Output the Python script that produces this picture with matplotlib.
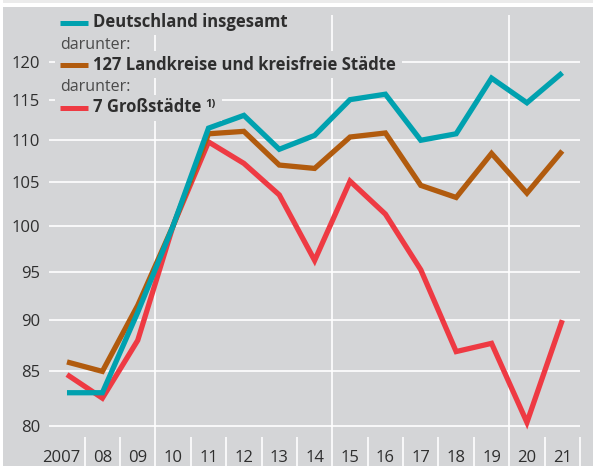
import matplotlib.pyplot as plt
from matplotlib.lines import Line2D
from matplotlib.patches import Rectangle
from matplotlib.ticker import FixedLocator, NullLocator
from matplotlib.transforms import ScaledTranslation

plt.rcParams['font.family'] = ['Open Sans', 'DejaVu Sans']

# data, index 2010 = 100
years = list(range(2007, 2022))
year_labels = ['2007', '08', '09', '10', '11', '12', '13', '14', '15', '16',
               '17', '18', '19', '20', '21']
deutschland = [83.0, 83.0, 90.8, 100.0, 111.5, 113.1, 108.9, 110.6, 115.1,
               115.8, 110.0, 110.8, 117.9, 114.7, 118.6]
landkreise = [85.9, 85.0, 91.5, 100.0, 110.8, 111.1, 107.0, 106.6, 110.4,
              110.9, 104.6, 103.2, 108.4, 103.7, 108.7]
grossstaedte = [84.7, 82.5, 88.0, 100.0, 109.8, 107.2, 103.5, 96.2, 105.1,
                101.3, 95.2, 86.9, 87.7, 80.3, 90.0]
y_ticks = [80, 85, 90, 95, 100, 105, 110, 115, 120]
series_names = ['Deutschland insgesamt',
                '127 Landkreise und kreisfreie Städte',
                '7 Großstädte']
sub_label = 'darunter:'
footnote = '1)'

# colours
bg = '#d4d5d7'
teal = '#00a1af'
brown = '#b15b0e'
red = '#ee3a43'
txt = '#2e2e2e'

W, H = 593, 466
fig = plt.figure(figsize=(W / 100, H / 100), dpi=100, facecolor=bg)


def px(x, y):
    # pixel position (from top left) -> figure fraction
    return x / W, 1 - y / H


# white frame strip at top / left
fig.add_artist(Rectangle((0, 1 - 7 / H), 1, 7 / H, transform=fig.transFigure,
                         facecolor='white', edgecolor='none', zorder=-1))
fig.add_artist(Rectangle((0, 1 - 2.5 / H), 1, 2.5 / H, transform=fig.transFigure,
                         facecolor='#ebebeb', edgecolor='none', zorder=-1))
fig.add_artist(Rectangle((0, 0), 3 / W, 1, transform=fig.transFigure,
                         facecolor='white', edgecolor='none', zorder=-1))

ax = fig.add_axes([49.3 / W, 1 - 437 / H, (580 - 49.3) / W, (437 - 15) / H])
ax.set_facecolor(bg)
ax.set_yscale('log')
ax.set_xlim(2006.5, 2021.5)
ax.set_ylim(79.0, 126.5)
for s in ax.spines.values():
    s.set_visible(False)

ax.yaxis.set_major_locator(FixedLocator(y_ticks))
ax.yaxis.set_minor_locator(NullLocator())
ax.set_yticklabels([str(v) for v in y_ticks])
ax.tick_params(axis='y', length=0, pad=6.5, labelsize=12, labelcolor=txt)
ax.grid(axis='y', color='white', lw=1.2)

ax.set_xticks(years)
ax.set_xticklabels(year_labels)
ax.set_xticks([y + 0.5 for y in years], minor=True)
ax.tick_params(axis='x', which='major', length=0, pad=9, labelsize=12,
               labelcolor=txt)
ax.tick_params(axis='x', which='minor', direction='out', length=22, width=1.2,
               color='white')
for xv in [2009.5, 2014.5, 2019.5]:
    ax.axvline(xv, color='white', lw=1.2, zorder=1)
ax.set_axisbelow(True)

# "2007" sits a bit left of its year
first = ax.get_xticklabels()[0]
first.set_transform(first.get_transform() + ScaledTranslation(-0.06, 0, fig.dpi_scale_trans))

ax.plot(years, grossstaedte, color=red, lw=3.8, solid_joinstyle='miter',
        solid_capstyle='butt', zorder=3)
ax.plot(years, landkreise, color=brown, lw=3.8, solid_joinstyle='miter',
        solid_capstyle='butt', zorder=4)
ax.plot(years, deutschland, color=teal, lw=3.8, solid_joinstyle='miter',
        solid_capstyle='butt', zorder=5)

# legend, built row by row
rows = [(22, series_names[0], teal), (64.5, series_names[1], brown),
        (107.5, series_names[2], red)]
texts = []
for yc, name, col in rows:
    t = fig.text(*px(93, yc), name, fontsize=12, fontweight='bold', color=txt,
                 va='center', ha='left', zorder=5)
    fig.add_artist(Line2D([60 / W, 88 / W], [1 - (yc + 0.5) / H] * 2,
                          transform=fig.transFigure, color=col, lw=3.6,
                          solid_capstyle='butt', zorder=4))
    texts.append(t)
for yc in [45, 87]:
    fig.text(*px(60, yc), sub_label, fontsize=11.5, color='#4a4a4a',
             va='center', ha='left', zorder=5)

fig.canvas.draw()
r = fig.canvas.get_renderer()
bb = texts[2].get_window_extent(r)
sup = fig.text(bb.x1 / W + 4 / W, 1 - 99.5 / H, footnote, fontsize=8,
               fontweight='bold', color=txt, va='top', ha='left', zorder=5)
fig.canvas.draw()
for i, t in enumerate(texts):
    b = t.get_window_extent(r)
    x1 = b.x1
    if i == 2:
        x1 = sup.get_window_extent(r).x1
    fig.add_artist(Rectangle((55 / W, (b.y0 - 4) / H), (x1 + 6 - 55) / W,
                             (b.y1 - b.y0 + 8) / H, transform=fig.transFigure,
                             facecolor=bg, edgecolor='none', zorder=3))

fig.savefig('out.png', dpi=100)
